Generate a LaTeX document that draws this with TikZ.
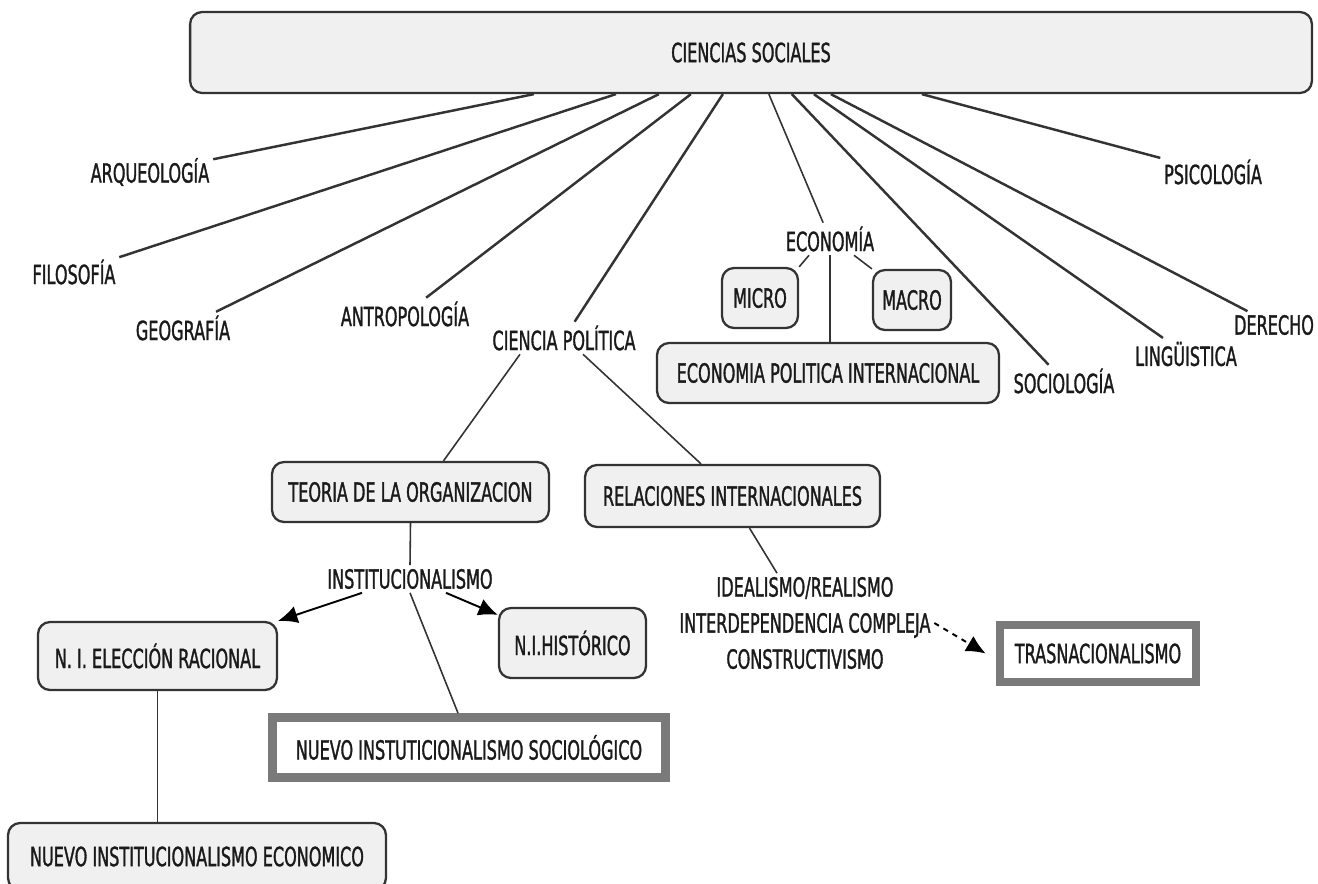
\documentclass[tikz,border=0pt]{standalone}
\usepackage{fontspec}
\setmainfont[FakeStretch=0.61,FakeBold=1.2]{DejaVu Sans}
\usetikzlibrary{arrows.meta}
\definecolor{boxfill}{HTML}{F0F0F0}
\definecolor{edge}{HTML}{333333}
\definecolor{thickgray}{HTML}{7A7A7A}
\definecolor{ink}{HTML}{1A1A1A}
\begin{document}
\begin{tikzpicture}[x=0.02cm,y=-0.02cm,
  every node/.style={font=\fontsize{15}{18}\selectfont, text=ink},
  lbl/.style={inner sep=2pt},
  rbox/.style={draw=edge, line width=1.3pt, fill=boxfill, rounded corners=0.24cm, inner sep=0pt},
  gbox/.style={draw=thickgray, line width=5pt, fill=white, inner sep=0pt},
  link/.style={draw=edge, line width=1.4pt},
  sublink/.style={draw=edge, line width=0.9pt},
  arr/.style={draw=black, line width=1.1pt, -{Latex[length=11pt,width=10pt]}}
]
\useasboundingbox (0,0) rectangle (1318,883);

% top
\node[rbox, minimum width=22.44cm, minimum height=1.62cm] (cs) at (751,52.5) {CIENCIAS SOCIALES};

% first-level labels
\node[lbl] (arq) at (150,172) {ARQUEOLOGÍA};
\node[lbl] (fil) at (74,272) {FILOSOFÍA};
\node[lbl] (geo) at (183,328) {GEOGRAFÍA};
\node[lbl] (ant) at (405,314) {ANTROPOLOGÍA};
\node[lbl] (cp) at (564,338) {CIENCIA POLÍTICA};
\node[lbl] (eco) at (830,239) {ECONOMÍA};
\node[lbl] (soc) at (1064,381) {SOCIOLOGÍA};
\node[lbl] (lin) at (1186,354) {LINGÜISTICA};
\node[lbl] (der) at (1274,325) {DERECHO};
\node[lbl] (psi) at (1213,172) {PSICOLOGÍA};

% economia
\node[rbox, minimum width=1.52cm, minimum height=1.2cm] (micro) at (760,298) {MICRO};
\node[rbox, minimum width=1.56cm, minimum height=1.2cm] (macro) at (912,300) {MACRO};
\node[rbox, minimum width=6.84cm, minimum height=1.2cm] (epi) at (828,373) {ECONOMIA POLITICA INTERNACIONAL};

% ciencia politica
\node[rbox, minimum width=5.54cm, minimum height=1.2cm] (teo) at (410.5,492) {TEORIA DE LA ORGANIZACION};
\node[rbox, minimum width=5.9cm, minimum height=1.24cm] (ri) at (732.5,496) {RELACIONES INTERNACIONALES};
\node[lbl] (inst) at (410,579) {INSTITUCIONALISMO};
\node[rbox, minimum width=4.78cm, minimum height=1.36cm] (nier) at (157.5,656) {N. I. ELECCIÓN RACIONAL};
\node[rbox, minimum width=2.94cm, minimum height=1.4cm] (hist) at (572.5,643) {N.I.HISTÓRICO};
\node[gbox, minimum width=7.86cm, minimum height=1.2cm] (nis) at (469,747.5) {NUEVO INSTUTICIONALISMO SOCIOLÓGICO};
\node[rbox, minimum width=7.56cm, minimum height=1.34cm] (nie) at (197,856.5) {NUEVO INSTITUCIONALISMO ECONOMICO};
\node[lbl, align=center, font=\fontsize{15}{20.5}\selectfont] (ideal) at (805,623) {IDEALISMO/REALISMO\\INTERDEPENDENCIA COMPLEJA\\CONSTRUCTIVISMO};
\node[gbox, minimum width=3.92cm, minimum height=1.14cm] (trans) at (1098,653.5) {TRASNACIONALISMO};

% connectors from top
\draw[link] ([xshift=6.9cm]cs.south west) -- (arq);
\draw[link] ([xshift=8.54cm]cs.south west) -- (fil);
\draw[link] ([xshift=9.4cm]cs.south west) -- (geo);
\draw[link] ([xshift=10.04cm]cs.south west) -- (ant);
\draw[link] ([xshift=10.68cm]cs.south west) -- (cp);
\draw[sublink] ([xshift=11.6cm]cs.south west) -- (eco);
\draw[link] ([xshift=12.06cm]cs.south west) -- (soc);
\draw[link] ([xshift=12.5cm]cs.south west) -- (lin);
\draw[link] ([xshift=12.84cm]cs.south west) -- (der);
\draw[link] ([xshift=14.66cm]cs.south west) -- (psi);

% economia
\draw[sublink] ([xshift=-0.42cm]eco.south) -- (micro.north east);
\draw[sublink] ([xshift=0.48cm]eco.south) -- (macro.north west);
\draw[sublink] (eco.south) -- (eco.south |- epi.north);

% ciencia politica
\draw[sublink] ([xshift=-0.88cm]cp.south) -- ([xshift=0.66cm]teo.north);
\draw[sublink] ([xshift=0.38cm]cp.south) -- ([xshift=-0.63cm]ri.north);
\draw[sublink] (teo.south) -- (inst.north);
\draw[arr] ([xshift=-0.96cm]inst.south) -- (nier.north east);
\draw[arr] ([xshift=0.72cm]inst.south) -- ([yshift=-0.16cm]hist.north west);
\draw[sublink] (inst.south) -- ([xshift=-0.22cm]nis.north);
\draw[sublink] (nier.south) -- (nier.south |- nie.north);
\draw[sublink] ([xshift=0.34cm]ri.south) -- ([xshift=-0.56cm]ideal.north);
\draw[arr, dashed] (ideal.east) -- ([xshift=-0.2cm]trans.west);
\end{tikzpicture}
\end{document}
